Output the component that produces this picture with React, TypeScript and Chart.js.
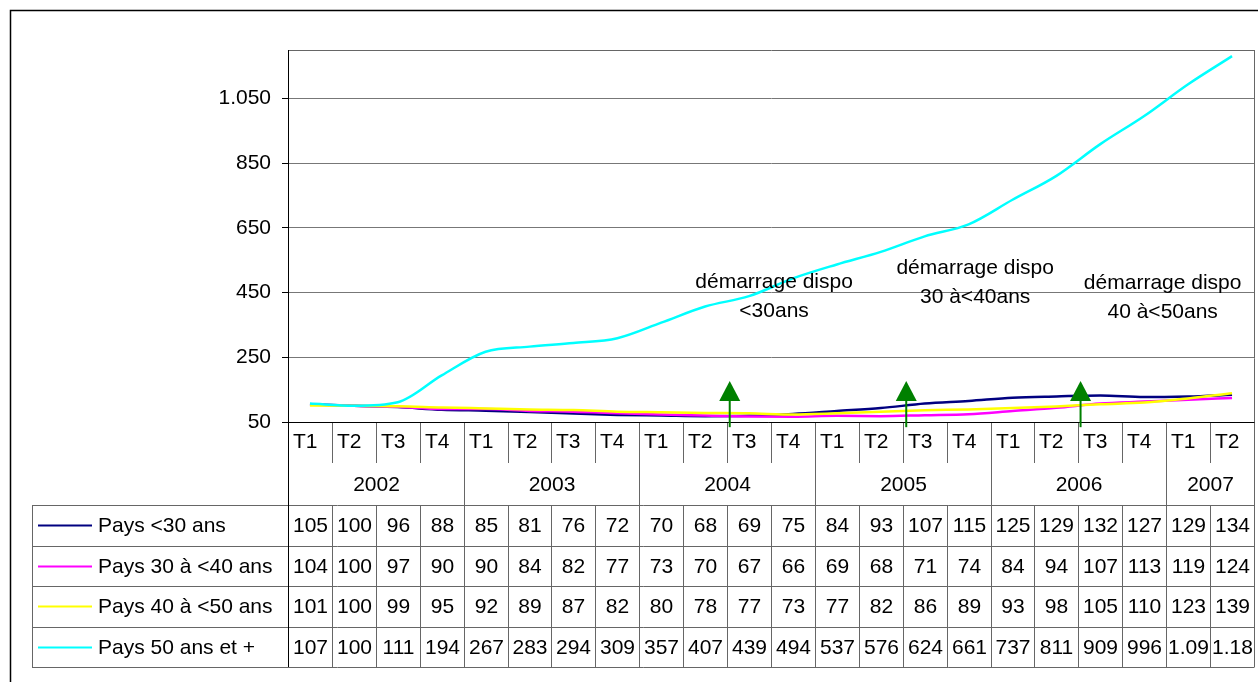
import React, { useEffect, useRef } from 'react';
import { Chart, registerables } from 'chart.js';

Chart.register(...registerables);

// ---- data ----
const QUARTERS = ['T1', 'T2', 'T3', 'T4', 'T1', 'T2', 'T3', 'T4', 'T1', 'T2', 'T3', 'T4', 'T1', 'T2', 'T3', 'T4', 'T1', 'T2', 'T3', 'T4', 'T1', 'T2'];
const YEARS = ['2002', '2002', '2002', '2002', '2003', '2003', '2003', '2003', '2004', '2004', '2004', '2004', '2005', '2005', '2005', '2005', '2006', '2006', '2006', '2006', '2007', '2007'];

const SERIES_NAMES = ['Pays <30 ans', 'Pays 30 à <40 ans', 'Pays 40 à <50 ans', 'Pays 50 ans et +'];
const UNDER_30 = [105, 100, 96, 88, 85, 81, 76, 72, 70, 68, 69, 75, 84, 93, 107, 115, 125, 129, 132, 127, 129, 134];
const AGE_30_40 = [104, 100, 97, 90, 90, 84, 82, 77, 73, 70, 67, 66, 69, 68, 71, 74, 84, 94, 107, 113, 119, 124];
const AGE_40_50 = [101, 100, 99, 95, 92, 89, 87, 82, 80, 78, 77, 73, 77, 82, 86, 89, 93, 98, 105, 110, 123, 139];
const AGE_50_PLUS = [107, 100, 111, 194, 267, 283, 294, 309, 357, 407, 439, 494, 537, 576, 624, 661, 737, 811, 909, 996, 1094, 1181];
const SERIES_COLORS = ['#000080', '#FF00FF', '#FFFF00', '#00FFFF'];

const Y_TICKS = [50, 250, 450, 650, 850, 1050];
const Y_MIN = 50;
const Y_MAX = 1200;

// annotations (in data coordinates: category index, axis value)
const NOTE_LINES = [
  ['démarrage dispo', '<30ans'],
  ['démarrage dispo', '30 à<40ans'],
  ['démarrage dispo', '40 à<50ans'],
];
const NOTE_X = [10.57, 15.15, 19.42];
const NOTE_Y = [483, 526, 480];
const ARROW_X = [9.56, 13.58, 17.55];
const ARROW_TIP = 177;
const ARROW_BASE = 34;

const FONT = "'Liberation Sans', Arial, sans-serif";
const FS = 21;

function fmt(v: number): string {
  return String(Math.round(v)).replace(/\B(?=(\d{3})+(?!\d))/g, '.');
}

const tablePlugin = {
  id: 'excelTable',
  afterDraw(chart: any) {
    const ctx: CanvasRenderingContext2D = chart.ctx;
    const xs = chart.scales.x;
    const ys = chart.scales.y;
    const ca = chart.chartArea;
    const n = QUARTERS.length;
    const edge = (i: number) => Math.round(xs.getPixelForValue(i - 0.5)) + 0.5;

    const tRowTop = Math.round(ca.bottom);
    const yearTop = tRowTop + 41;
    const tableTop = yearTop + 42;
    const rowH = 40.5;
    const tableBottom = Math.round(tableTop + rowH * 4);
    const tableLeft = 32;
    const right = Math.round(ca.right) + 0.5;
    const left = Math.round(ca.left) + 0.5;

    ctx.save();
    // outer frame
    ctx.strokeStyle = '#000';
    ctx.lineWidth = 1.5;
    ctx.strokeRect(10.5, 10.5, 1300, 700);

    ctx.lineWidth = 1;
    ctx.strokeStyle = '#666';
    // plot top & right border
    ctx.beginPath();
    ctx.moveTo(left, Math.round(ca.top) + 0.5);
    ctx.lineTo(right, Math.round(ca.top) + 0.5);
    ctx.moveTo(right, Math.round(ca.top));
    ctx.lineTo(right, tableBottom);
    ctx.stroke();

    // separators in the quarter / year rows
    const isYearEdge = (i: number) => i === 0 || i === n || YEARS[i] !== YEARS[i - 1];
    ctx.beginPath();
    for (let i = 1; i < n; i++) {
      const ex = edge(i);
      ctx.moveTo(ex, tRowTop);
      ctx.lineTo(ex, isYearEdge(i) ? tableBottom : yearTop);
      if (!isYearEdge(i)) {
        ctx.moveTo(ex, tableTop);
        ctx.lineTo(ex, tableBottom);
      }
    }
    // table horizontals
    for (let k = 0; k <= 4; k++) {
      const yy = Math.round(tableTop + k * rowH) + 0.5;
      ctx.moveTo(tableLeft, yy);
      ctx.lineTo(right, yy);
    }
    ctx.moveTo(tableLeft + 0.5, tableTop);
    ctx.lineTo(tableLeft + 0.5, tableBottom + 0.5);
    ctx.stroke();

    // axis lines (black)
    ctx.strokeStyle = '#000';
    ctx.beginPath();
    ctx.moveTo(left, Math.round(ca.top));
    ctx.lineTo(left, tableBottom);
    ctx.moveTo(left - 6, tRowTop + 0.5);
    ctx.lineTo(right, tRowTop + 0.5);
    ctx.stroke();

    // quarter labels
    ctx.fillStyle = '#000';
    ctx.font = `${FS}px ${FONT}`;
    ctx.textBaseline = 'middle';
    ctx.textAlign = 'left';
    for (let i = 0; i < n; i++) {
      ctx.fillText(QUARTERS[i], edge(i) + 4.5, tRowTop + 20);
    }
    // year labels
    ctx.textAlign = 'center';
    let start = 0;
    for (let i = 1; i <= n; i++) {
      if (i === n || YEARS[i] !== YEARS[start]) {
        const cx = (edge(start) + edge(i)) / 2;
        ctx.fillText(YEARS[start], cx, yearTop + 22);
        start = i;
      }
    }

    // data table
    const series = [UNDER_30, AGE_30_40, AGE_40_50, AGE_50_PLUS];
    series.forEach((vals, r) => {
      const cy = tableTop + r * rowH + rowH / 2;
      // legend key
      ctx.strokeStyle = SERIES_COLORS[r];
      ctx.lineWidth = 2;
      ctx.beginPath();
      ctx.moveTo(38, Math.round(cy) + 0.5);
      ctx.lineTo(92, Math.round(cy) + 0.5);
      ctx.stroke();
      ctx.textAlign = 'left';
      ctx.fillText(SERIES_NAMES[r], 98, cy + 1);
      ctx.textAlign = 'center';
      for (let i = 0; i < n; i++) {
        const a = edge(i);
        const b = edge(i + 1);
        let txt = fmt(vals[i]);
        while (txt.length > 1 && ctx.measureText(txt).width > b - a - 1) txt = txt.slice(0, -1);
        ctx.fillText(txt, (a + b) / 2, cy + 1);
      }
    });

    // arrows
    ctx.strokeStyle = '#008000';
    ctx.fillStyle = '#008000';
    ARROW_X.forEach((ax) => {
      const px = xs.getPixelForValue(ax);
      const tip = ys.getPixelForValue(ARROW_TIP);
      const base = ys.getPixelForValue(ARROW_BASE);
      const headH = 20;
      ctx.lineWidth = 2;
      ctx.beginPath();
      ctx.moveTo(px, base);
      ctx.lineTo(px, tip + headH);
      ctx.stroke();
      ctx.beginPath();
      ctx.moveTo(px, tip);
      ctx.lineTo(px - 10.5, tip + headH);
      ctx.lineTo(px + 10.5, tip + headH);
      ctx.closePath();
      ctx.fill();
    });

    // annotation texts
    ctx.fillStyle = '#000';
    ctx.textAlign = 'center';
    NOTE_LINES.forEach((lines, k) => {
      const px = xs.getPixelForValue(NOTE_X[k]);
      const py = ys.getPixelForValue(NOTE_Y[k]);
      lines.forEach((l, j) => ctx.fillText(l, px, py + j * 29));
    });
    ctx.restore();
  },
};

export default function App() {
  const ref = useRef<HTMLCanvasElement>(null);
  useEffect(() => {
    if (!ref.current) return;
    const chart = new Chart(ref.current, {
      type: 'line',
      data: {
        labels: QUARTERS.map((q, i) => `${YEARS[i]} ${q}`),
        datasets: [UNDER_30, AGE_30_40, AGE_40_50, AGE_50_PLUS].map((d, i) => ({
          label: SERIES_NAMES[i],
          data: d,
          borderColor: SERIES_COLORS[i],
          backgroundColor: SERIES_COLORS[i],
          borderWidth: 2.5,
          pointRadius: 0,
          cubicInterpolationMode: 'monotone',
          fill: false,
          order: 4 - i,
        })),
      },
      options: {
        responsive: false,
        animation: false,
        layout: { padding: { left: 0, top: 50, right: 4, bottom: 260 } },
        plugins: { legend: { display: false }, tooltip: { enabled: false } },
        scales: {
          x: { type: 'category', offset: true, display: false },
          y: {
            min: Y_MIN,
            max: Y_MAX,
            afterBuildTicks: (s: any) => {
              s.ticks = Y_TICKS.map((v) => ({ value: v }));
            },
            afterFit: (s: any) => {
              s.width = 288;
            },
            ticks: {
              color: '#000',
              font: { family: FONT, size: FS },
              padding: 11,
              callback: (v: any) => fmt(Number(v)),
            },
            grid: { color: '#777', tickColor: '#000', tickLength: 6, lineWidth: 1 },
            border: { color: '#000' },
          },
        },
      },
      plugins: [tablePlugin],
    });
    return () => chart.destroy();
  }, []);
  return (
    <div style={{ position: 'fixed', left: 0, top: 0, width: 1258, height: 682, background: '#fff' }}>
      <canvas ref={ref} width={1258} height={682} style={{ display: 'block' }} />
    </div>
  );
}
